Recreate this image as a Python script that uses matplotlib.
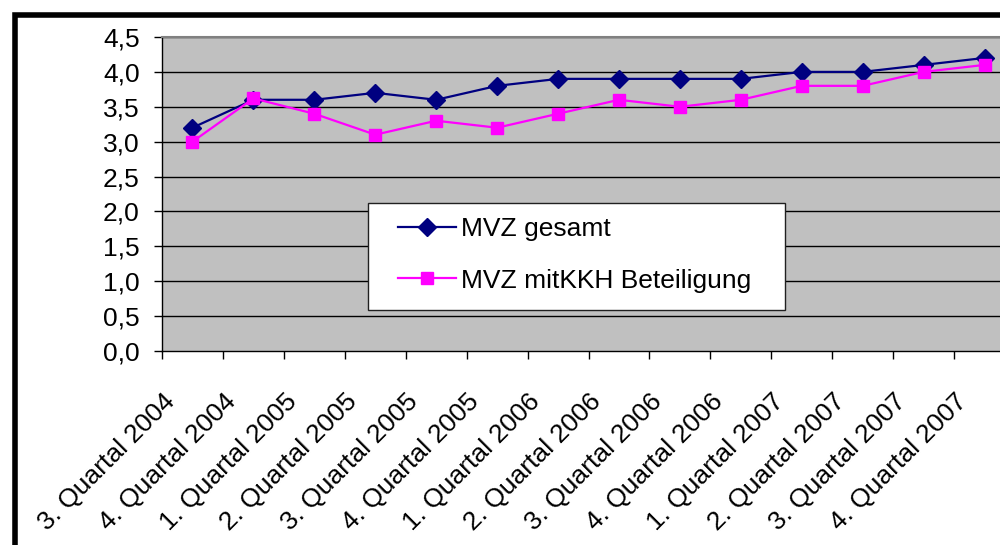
import numpy as np
import matplotlib.pyplot as plt
from matplotlib.patches import Rectangle
from matplotlib.transforms import ScaledTranslation

# Chart data
quartale = ['3. Quartal 2004', '4. Quartal 2004', '1. Quartal 2005', '2. Quartal 2005',
            '3. Quartal 2005', '4. Quartal 2005', '1. Quartal 2006', '2. Quartal 2006',
            '3. Quartal 2006', '4. Quartal 2006', '1. Quartal 2007', '2. Quartal 2007',
            '3. Quartal 2007', '4. Quartal 2007']
mvz_gesamt = [3.2, 3.6, 3.6, 3.7, 3.6, 3.8, 3.9, 3.9, 3.9, 3.9, 4.0, 4.0, 4.1, 4.2]
mvz_kkh = [3.0, 3.62, 3.4, 3.1, 3.3, 3.2, 3.4, 3.6, 3.5, 3.6, 3.8, 3.8, 4.0, 4.1]
y_ticks = [0.0, 0.5, 1.0, 1.5, 2.0, 2.5, 3.0, 3.5, 4.0, 4.5]

plt.rcParams['font.family'] = ['Liberation Sans', 'DejaVu Sans']
fs = 19

W, H = 1000, 545
fig = plt.figure(figsize=(10, 5.45), dpi=100)

# axes in pixel coordinates (right side runs past the image edge like the original)
left, right, top, bottom = 162, 1015, 37, 351
ax = fig.add_axes([left / W, 1 - bottom / H, (right - left) / W, (bottom - top) / H])
ax.set_facecolor('#C0C0C0')

def px(xp, yp):
    # pixel position -> axes fraction
    return (xp - left) / (right - left), 1 - (yp - top) / (bottom - top)

x = np.arange(len(quartale))
ax.plot(x, mvz_gesamt, color='#000080', lw=1.6, marker='D', markersize=9,
        label='MVZ gesamt', zorder=3)
ax.plot(x, mvz_kkh, color='#FF00FF', lw=1.6, marker='s', markersize=8.5,
        label='MVZ mitKKH Beteiligung', zorder=3)

ax.set_xlim(-0.5, len(quartale) - 0.5)
ax.set_ylim(0, 4.5)
ax.set_yticks(y_ticks)
ax.set_yticklabels([f'{v:.1f}'.replace('.', ',') for v in y_ticks], fontsize=fs)
for v in y_ticks[1:]:
    ax.axhline(v, color='black', lw=1, zorder=1)

# category labels as texts, shifted a bit left of the category centre like Excel does
ax.set_xticks(x)
ax.set_xticklabels([])
lbl_tr = ax.get_xaxis_transform() + ScaledTranslation(-0.30, -0.385, fig.dpi_scale_trans)
for i, q in enumerate(quartale):
    ax.text(i, 0, q, transform=lbl_tr, rotation=45, ha='right', va='top',
            rotation_mode='anchor', fontsize=fs, clip_on=False)
ax.set_xticks(np.arange(len(quartale) + 1) - 0.5, minor=True)
ax.tick_params(axis='x', which='major', length=0)
ax.tick_params(axis='x', which='minor', length=6, width=1, direction='out')
ax.tick_params(axis='y', length=6, width=1, direction='out', pad=10)

for s in ['left', 'bottom']:
    ax.spines[s].set_color('black')
    ax.spines[s].set_linewidth(1)
ax.spines['top'].set_color('#808080')
ax.spines['top'].set_linewidth(1.5)
ax.spines['right'].set_visible(False)

# legend box drawn separately so it can be sized like the original
x0, y0 = px(368, 310)
x1, y1 = px(785, 203)
ax.add_patch(Rectangle((x0, y0), x1 - x0, y1 - y0, transform=ax.transAxes,
                       facecolor='white', edgecolor='#202020', lw=1, zorder=4))
leg = ax.legend(loc='upper left', bbox_to_anchor=px(398, 217),
                fontsize=fs, frameon=False, borderpad=0, labelspacing=1.05,
                handlelength=2.2, handletextpad=0.2, borderaxespad=0)
leg.set_zorder(5)

# thick black frame round the chart, cut off on the right and at the bottom
fig.patches.append(Rectangle((14.5 / W, -0.1), 1.2, 1 - 14.5 / H + 0.1,
                             transform=fig.transFigure, fill=False,
                             edgecolor='black', lw=4, zorder=10))

fig.savefig('out.png', dpi=100)
